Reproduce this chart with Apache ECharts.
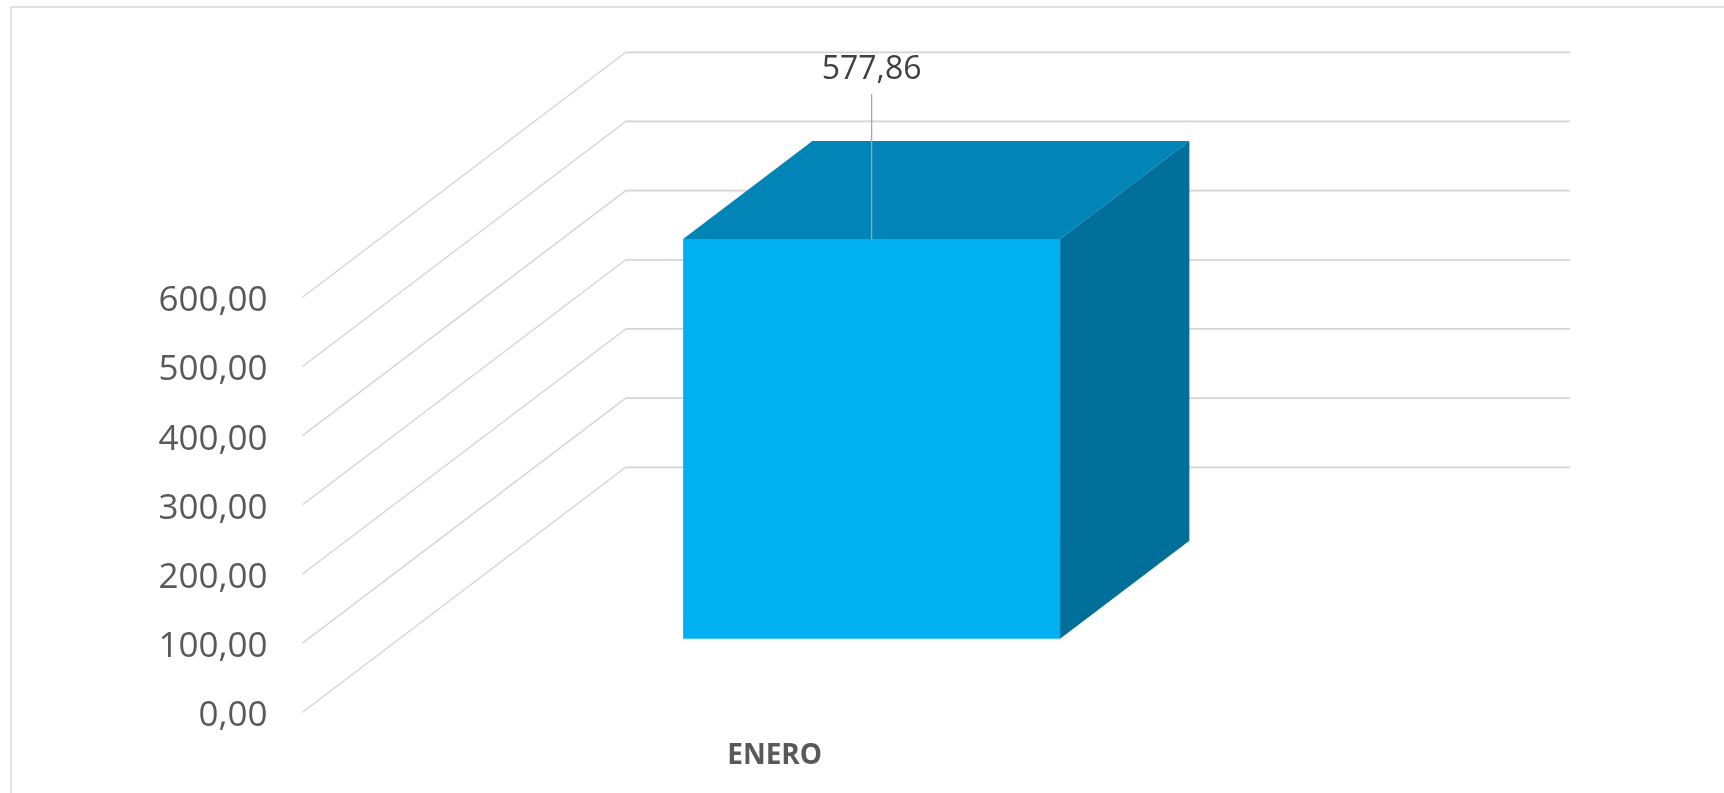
<!DOCTYPE html>
<html>
<head>
<meta charset="utf-8">
<style>html,body{margin:0;padding:0;background:#fff;overflow:hidden}#c{width:1724px;height:793px}</style>
<script src="https://cdn.jsdelivr.net/npm/echarts@6/dist/echarts.min.js"></script>
</head>
<body>
<div id="c"></div>
<script>
const categories = ['ENERO'];
const values = [577.86];
const yTicks = [0, 100, 200, 300, 400, 500, 600];
const yTickLabels = ['0,00', '100,00', '200,00', '300,00', '400,00', '500,00', '600,00'];

const DEPTH_X = 323.2, DEPTH_Y = 245;
const BAR_NEAR = 0.30, BAR_FAR = 0.70, BAR_WIDTH = 0.3992;
const FONT = '"Open Sans", sans-serif';

const chart = echarts.init(document.getElementById('c'), null, {renderer: 'canvas'});
chart.setOption({
  animation: false,
  backgroundColor: '#ffffff',
  graphic: [{
    type: 'rect', z: -10, silent: true,
    shape: {x: 11, y: 7, width: 1800, height: 900},
    style: {fill: '#ffffff', stroke: '#d9d9d9', lineWidth: 1.5}
  }],
  grid: {left: 302.5, top: 297.3, width: 944.3, height: 415},
  xAxis: {
    type: 'category', data: categories,
    axisLine: {show: false}, axisTick: {show: false}, splitLine: {show: false},
    axisLabel: {margin: 30, fontFamily: FONT, fontSize: 28, fontWeight: 'bold', color: '#595959'}
  },
  yAxis: {
    type: 'value', min: 0, max: 600, interval: 100,
    axisLine: {show: false}, axisTick: {show: false}, splitLine: {show: false},
    axisLabel: {
      margin: 35, fontFamily: FONT, fontSize: 35, color: '#595959',
      verticalAlign: 'top', lineHeight: 8,
      formatter: v => yTickLabels[yTicks.indexOf(v)]
    }
  },
  series: [
    {
      type: 'custom', z: 1, silent: true, clip: false,
      data: yTicks.map(v => [0, v]),
      encode: {x: 0, y: 1},
      renderItem(params, api) {
        const y = api.coord([0, api.value(1)])[1];
        const x0 = params.coordSys.x, w = params.coordSys.width;
        return {type: 'group', children: [
          {type: 'line', shape: {x1: x0, y1: y, x2: x0 + DEPTH_X, y2: y - DEPTH_Y},
           style: {stroke: '#d4d4d4', lineWidth: 1.3}},
          {type: 'line', shape: {x1: x0 + DEPTH_X, y1: y - DEPTH_Y, x2: x0 + DEPTH_X + w, y2: y - DEPTH_Y},
           style: {stroke: '#d4d4d4', lineWidth: 1.8}}
        ]};
      }
    },
    {
      type: 'custom', z: 2, silent: true, clip: false,
      data: values.map((v, i) => [i, v]),
      encode: {x: 0, y: 1},
      renderItem(params, api) {
        const v = api.value(1);
        const base = api.coord([api.value(0), 0]);
        const top = api.coord([api.value(0), v]);
        const bw = api.size([1, 0])[0] * BAR_WIDTH;
        const nx = DEPTH_X * BAR_NEAR, ny = DEPTH_Y * BAR_NEAR;
        const fx = DEPTH_X * (BAR_FAR - BAR_NEAR), fy = DEPTH_Y * (BAR_FAR - BAR_NEAR);
        const L = base[0] + nx - bw / 2, R = L + bw;
        const B = base[1] - ny, T = top[1] - ny;
        const mid = (L + R) / 2;
        const txt = v.toFixed(2).replace('.', ',');
        return {type: 'group', children: [
          {type: 'polygon', shape: {points: [[L, T], [R, T], [R + fx, T - fy], [L + fx, T - fy]]},
           style: {fill: '#0085B6'}},
          {type: 'polygon', shape: {points: [[R, T], [R + fx, T - fy], [R + fx, B - fy], [R, B]]},
           style: {fill: '#00709B'}},
          {type: 'rect', shape: {x: L, y: T, width: bw, height: B - T},
           style: {fill: '#00B0F0'}},
          {type: 'line', shape: {x1: mid, y1: T, x2: mid, y2: T - 145},
           style: {stroke: '#a6a6a6', lineWidth: 1.3}},
          {type: 'text', x: mid, y: T - 169,
           style: {text: txt, fill: '#404040', font: '32px ' + FONT, align: 'center', verticalAlign: 'middle'}}
        ]};
      }
    }
  ]
});
</script>
</body>
</html>
